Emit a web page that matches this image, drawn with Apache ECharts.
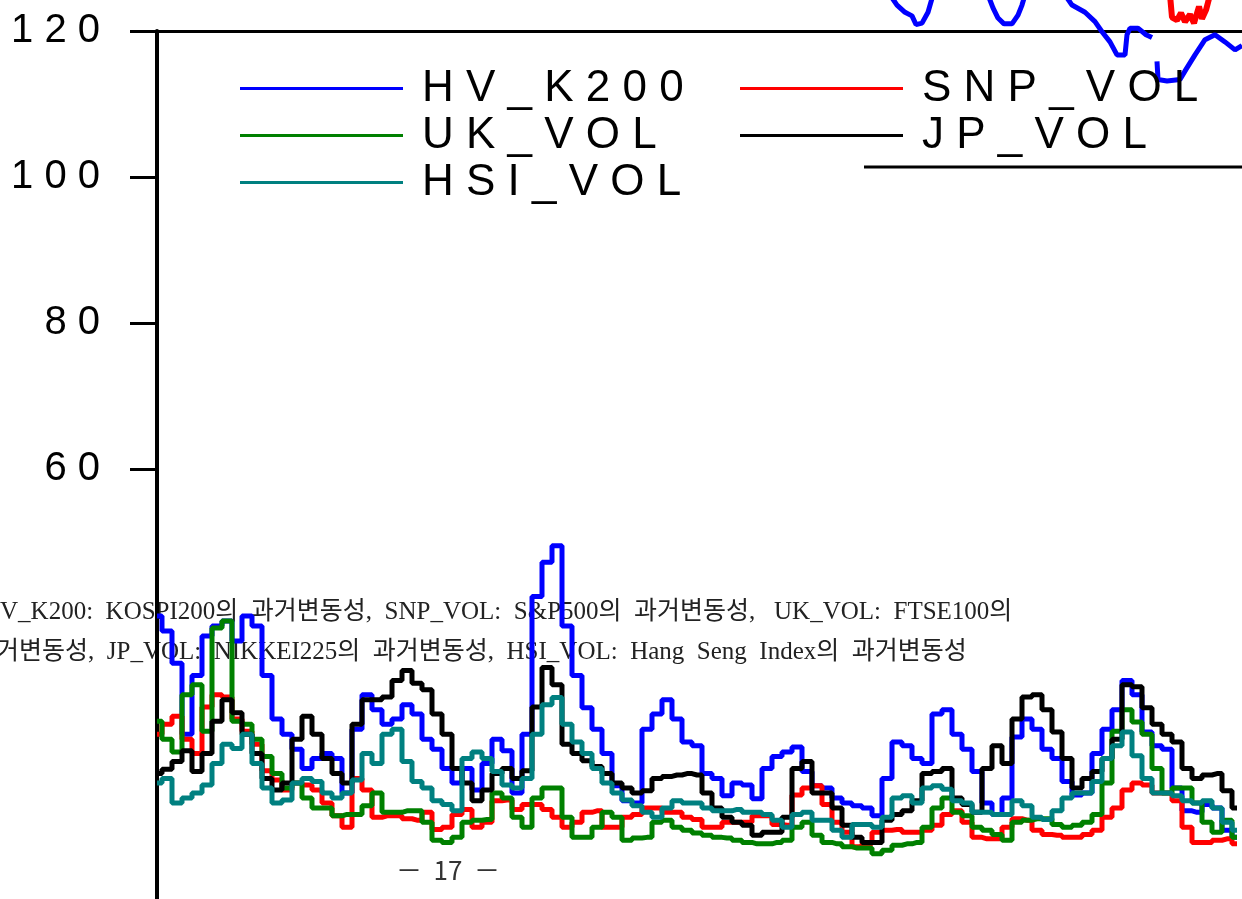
<!DOCTYPE html>
<html>
<head>
<meta charset="utf-8">
<title>HV chart</title>
<script src="https://cdn.jsdelivr.net/npm/echarts@6/dist/echarts.min.js"></script>
<style>
    html, body { margin: 0; padding: 0; background: #fff; }
    #chart { width: 1242px; height: 899px; }
</style>
</head>
<body>
<div id="chart"></div>
<script>
// historical volatility, one value every ~10 px of the original plot
var hvK200 = [39.5, 37.4, 32.9, 23.0, 31.2, 36.7, 38.1, 38.8, 36.0, 39.5, 38.1, 31.2, 25.1, 23.0, 20.9, 18.2, 19.6, 20.3, 19.6, 14.8,
    23.7, 28.5, 26.4, 24.4, 25.1, 27.1, 25.8, 22.3, 20.9, 18.2, 16.2, 18.2, 15.2, 18.9, 22.3, 20.7, 14.8, 23.0, 42.2, 47.0,
    49.3, 38.1, 31.2, 26.7, 23.7, 20.3, 15.8, 13.7, 13.4, 23.7, 25.8, 27.8, 25.1, 21.9, 21.4, 17.5, 16.8, 14.4, 16.2, 15.9,
    14.0, 18.2, 19.9, 20.5, 21.2, 17.8, 15.8, 15.5, 14.1, 13.4, 13.0, 12.7, 11.6, 16.8, 21.9, 21.4, 19.6, 18.9, 25.8, 26.4,
    23.0, 20.9, 17.8, 13.4, 11.8, 14.1, 22.6, 25.1, 23.7, 20.9, 19.6, 16.4, 14.5, 14.8, 20.3, 23.7, 26.4, 30.5, 28.5, 23.3,
    21.4, 20.9, 15.5, 12.3, 12.1, 13.2, 12.7, 9.6, 8.6];
var snpVol = [23.0, 24.4, 25.5, 22.3, 20.3, 26.8, 28.5, 28.2, 25.1, 23.4, 21.6, 17.9, 16.6, 15.2, 16.2, 15.9, 15.2, 13.4, 11.6, 10.0,
    16.8, 15.2, 11.4, 11.6, 11.6, 11.2, 11.0, 12.1, 9.7, 10.0, 11.8, 12.5, 10.0, 10.7, 13.7, 13.8, 12.5, 13.2, 13.2, 12.5,
    11.4, 10.0, 10.7, 12.1, 12.3, 10.0, 10.0, 11.4, 11.8, 12.7, 12.7, 12.1, 12.1, 11.4, 11.1, 10.0, 10.0, 10.7, 10.7, 10.7,
    11.6, 11.6, 10.4, 10.3, 14.5, 15.5, 15.8, 13.2, 10.7, 9.3, 7.3, 7.7, 9.3, 9.6, 9.7, 9.3, 9.3, 9.6, 10.3, 11.8,
    12.3, 10.7, 8.6, 8.4, 8.4, 10.0, 11.2, 11.0, 9.6, 9.0, 8.9, 8.6, 8.6, 9.0, 9.6, 11.4, 12.7, 15.2, 16.2, 15.9,
    14.8, 14.8, 13.7, 10.0, 7.9, 7.9, 8.2, 8.4, 7.7];
var ukVol = [24.8, 22.3, 20.5, 28.5, 29.9, 23.4, 37.8, 38.8, 24.8, 24.4, 22.3, 19.9, 17.5, 15.5, 16.2, 14.1, 12.7, 12.7, 11.6, 11.8,
    11.8, 13.0, 14.8, 12.1, 12.1, 12.3, 12.3, 10.7, 8.2, 7.9, 8.6, 10.7, 11.0, 11.1, 14.8, 14.1, 11.4, 10.0, 14.1, 15.5,
    15.5, 11.4, 8.6, 8.6, 10.0, 12.1, 11.4, 8.2, 8.5, 8.6, 10.7, 11.0, 10.0, 9.6, 9.2, 8.9, 8.6, 8.5, 8.2, 7.9,
    7.7, 7.7, 7.9, 8.2, 10.0, 10.7, 8.9, 7.9, 7.7, 7.3, 7.1, 7.1, 6.3, 6.8, 7.5, 7.7, 7.9, 10.0, 12.7, 14.1,
    12.1, 11.6, 10.0, 9.6, 9.0, 8.2, 10.7, 11.0, 11.2, 11.2, 10.4, 10.0, 10.3, 10.7, 11.8, 16.2, 23.4, 26.4, 24.7, 23.0,
    18.2, 14.8, 15.5, 15.5, 13.4, 10.7, 9.3, 11.0, 8.6];
var jpVol = [17.5, 18.1, 19.2, 20.7, 17.8, 20.3, 24.8, 27.8, 26.0, 23.0, 20.3, 16.8, 15.2, 16.2, 22.3, 25.5, 23.0, 19.6, 17.5, 16.2,
    24.4, 27.8, 27.8, 28.2, 30.5, 31.9, 30.1, 29.2, 25.8, 23.0, 18.2, 16.2, 13.7, 15.2, 17.5, 18.2, 16.8, 17.9, 26.8, 32.3,
    29.9, 21.6, 20.3, 19.3, 18.5, 17.5, 16.2, 15.5, 14.8, 15.1, 16.8, 17.1, 17.3, 17.5, 17.3, 14.8, 12.7, 11.4, 10.7, 10.3,
    8.9, 9.3, 9.3, 11.4, 18.2, 19.2, 14.8, 14.8, 12.7, 10.3, 8.6, 7.9, 7.9, 11.0, 11.8, 12.3, 13.7, 17.5, 17.8, 18.2,
    14.1, 13.2, 12.1, 18.2, 21.4, 18.9, 25.1, 28.2, 28.5, 26.4, 23.3, 19.6, 15.5, 16.8, 17.8, 19.6, 22.3, 29.9, 29.6, 26.7,
    24.4, 23.0, 21.9, 18.2, 16.8, 17.3, 17.5, 15.1, 12.7];
var hsiVol = [16.2, 16.8, 13.4, 14.1, 14.8, 15.9, 18.9, 21.6, 21.0, 23.0, 18.9, 15.5, 13.4, 13.8, 16.2, 16.8, 16.4, 14.8, 14.1, 14.8,
    16.6, 20.3, 18.9, 23.0, 23.7, 19.2, 16.4, 15.5, 13.7, 13.2, 12.3, 19.6, 20.5, 19.6, 17.8, 15.9, 15.5, 16.8, 23.0, 27.1,
    28.1, 24.4, 21.9, 20.3, 18.2, 16.2, 14.8, 13.8, 13.0, 12.1, 11.4, 12.7, 13.7, 13.4, 13.4, 12.7, 12.3, 12.3, 12.5, 12.1,
    12.1, 11.8, 11.0, 10.0, 11.8, 12.1, 11.0, 11.0, 9.6, 8.6, 10.4, 10.4, 10.0, 11.4, 14.1, 14.4, 13.4, 15.5, 15.8, 15.3,
    13.7, 13.4, 12.1, 12.1, 11.8, 11.8, 13.7, 13.0, 11.4, 11.1, 12.3, 14.1, 14.8, 14.8, 16.4, 19.6, 21.4, 23.3, 20.0, 16.8,
    14.8, 14.8, 14.4, 13.7, 13.4, 13.7, 12.7, 10.7, 9.6];

// stray pieces of another plot that show through at the top right, [position, value]
var strayBlue = [
    [[73.3, 125.1], [74.0, 123.7], [74.8, 122.7], [75.5, 122.2], [75.9, 121.0], [76.5, 121.2], [77.1, 122.7], [77.6, 125.1]],
    [[83.1, 125.1], [83.6, 123.3], [84.1, 121.9], [84.7, 121.1], [85.5, 121.1], [86.1, 122.3], [86.5, 123.7], [86.8, 125.1]],
    [[90.8, 125.1], [91.5, 123.7], [92.8, 122.7], [93.8, 121.4], [94.5, 120.0], [95.3, 118.6], [96.0, 116.8], [96.8, 116.8],
        [97.0, 119.6], [97.3, 120.5], [98.1, 120.5], [98.9, 119.6], [99.5, 119.2]],
    [[100.0, 115.9], [100.1, 113.4], [101.0, 113.2], [102.3, 113.4], [102.9, 114.8], [103.8, 116.8], [104.8, 118.9],
        [105.8, 119.6], [106.8, 118.6], [107.8, 117.5], [108.5, 118.1]]
];
var strayRed = [[101.3, 125.1], [101.5, 122.0], [102.0, 121.6], [102.4, 122.6], [102.8, 121.4], [103.3, 122.4],
    [103.7, 121.2], [104.2, 123.5], [104.5, 121.8], [104.9, 123.0], [105.3, 125.1]];

var seriesNames = ['HV_K200', 'SNP_VOL', 'UK_VOL', 'JP_VOL', 'HSI_VOL'];
var seriesColors = ['#0000ff', '#ff0000', '#008000', '#000000', '#008080'];
var captionLines = [
    'HV_K200:  KOSPI200의  과거변동성,  SNP_VOL:  S&P500의  과거변동성,   UK_VOL:  FTSE100의',
    '과거변동성,  JP_VOL:  NIKKEI225의  과거변동성,  HSI_VOL:  Hang  Seng  Index의  과거변동성'
];
var pageLabel = '－  17  －';

function init() {
    var chart = echarts.init(document.getElementById('chart'));
    var days = hvK200.map(function (v, i) { return i; });
    var allData = [hvK200, snpVol, ukVol, jpVol, hsiVol];
    var spaced = function (s) { return String(s).split('').join(' '); };

    var series = [];
    for (var i = 0; i < seriesNames.length; i++) {
        series.push({
            name: seriesNames[i],
            type: 'line',
            xAxisIndex: 1,
            yAxisIndex: 1,
            data: allData[i],
            step: 'middle',
            showSymbol: false,
            color: seriesColors[i],
            lineStyle: { width: 5, color: seriesColors[i] },
            z: 3
        });
    }
    strayBlue.forEach(function (seg) {
        series.push({
            name: 'stray', type: 'line', xAxisIndex: 2, yAxisIndex: 2,
            data: seg, showSymbol: false, clip: false,
            lineStyle: { width: 5, color: '#0000ff' }, z: 3
        });
    });
    series.push({
        name: 'stray', type: 'line', xAxisIndex: 2, yAxisIndex: 2,
        data: strayRed, showSymbol: false, clip: false,
        lineStyle: { width: 6, color: '#ff0000' }, z: 3
    });

    var legendText = {
        fontFamily: 'Liberation Sans, Arial, sans-serif',
        fontSize: 44,
        color: '#000',
        lineHeight: 47,
        padding: [0, 0, 0, 14]
    };

    chart.setOption({
        backgroundColor: '#fff',
        animation: false,
        legend: [
            {
                left: 235, top: 60, orient: 'vertical', itemGap: 0,
                icon: 'rect', itemWidth: 163, itemHeight: 3,
                data: ['HV_K200', 'UK_VOL', 'HSI_VOL'],
                formatter: spaced, textStyle: legendText, selectedMode: false
            },
            {
                left: 735, top: 60, orient: 'vertical', itemGap: 0,
                icon: 'rect', itemWidth: 163, itemHeight: 3,
                data: ['SNP_VOL', 'JP_VOL'],
                formatter: spaced, textStyle: legendText, selectedMode: false
            }
        ],
        grid: [
            { left: 157, right: 0, top: 31, height: 438 },
            { left: 157, width: 1080, top: 469, height: 437 },
            { left: 157, width: 1085, top: 0, height: 906 }
        ],
        xAxis: [
            {
                gridIndex: 0, type: 'value', position: 'top', min: 0, max: 1,
                axisLine: { show: true, lineStyle: { color: '#000', width: 3 } },
                axisTick: { show: false }, axisLabel: { show: false }, splitLine: { show: false }
            },
            {
                gridIndex: 1, type: 'category', data: days, boundaryGap: false, show: false
            },
            {
                gridIndex: 2, type: 'value', min: 0, max: 108.5, show: false
            }
        ],
        yAxis: [
            {
                gridIndex: 0, type: 'value', min: 60, max: 120, interval: 20,
                axisLine: { show: true, lineStyle: { color: '#000', width: 4 } },
                axisTick: { show: true, length: 27, lineStyle: { color: '#000', width: 3 } },
                axisLabel: {
                    margin: 57, fontSize: 40, color: '#000',
                    fontFamily: 'Liberation Sans, Arial, sans-serif',
                    formatter: spaced
                },
                splitLine: { show: false }
            },
            {
                gridIndex: 1, type: 'value', min: 0, max: 60,
                axisLine: { show: true, lineStyle: { color: '#000', width: 4 } },
                axisTick: { show: false }, axisLabel: { show: false }, splitLine: { show: false }
            },
            {
                gridIndex: 2, type: 'value', min: 0, max: 124.4, show: false
            }
        ],
        graphic: {
            elements: [
                {
                    type: 'line', z: 1,
                    shape: { x1: 864, y1: 167, x2: 1242, y2: 167 },
                    style: { stroke: '#000', lineWidth: 3 }
                },
                {
                    type: 'text', x: -18, y: 612, z: 0,
                    style: {
                        text: captionLines[0], fill: '#222', fontSize: 25,
                        fontFamily: 'Liberation Serif, Noto Sans CJK KR, serif',
                        verticalAlign: 'middle'
                    }
                },
                {
                    type: 'text', x: -27, y: 652, z: 0,
                    style: {
                        text: captionLines[1], fill: '#222', fontSize: 25,
                        fontFamily: 'Liberation Serif, Noto Sans CJK KR, serif',
                        verticalAlign: 'middle'
                    }
                },
                {
                    type: 'text', x: 448, y: 870, z: 0,
                    style: {
                        text: pageLabel, fill: '#333', fontSize: 26,
                        fontFamily: 'Noto Sans CJK KR, sans-serif',
                        align: 'center', verticalAlign: 'middle'
                    }
                }
            ]
        },
        series: series
    });
}
document.addEventListener('DOMContentLoaded', init);
</script>
</body>
</html>
